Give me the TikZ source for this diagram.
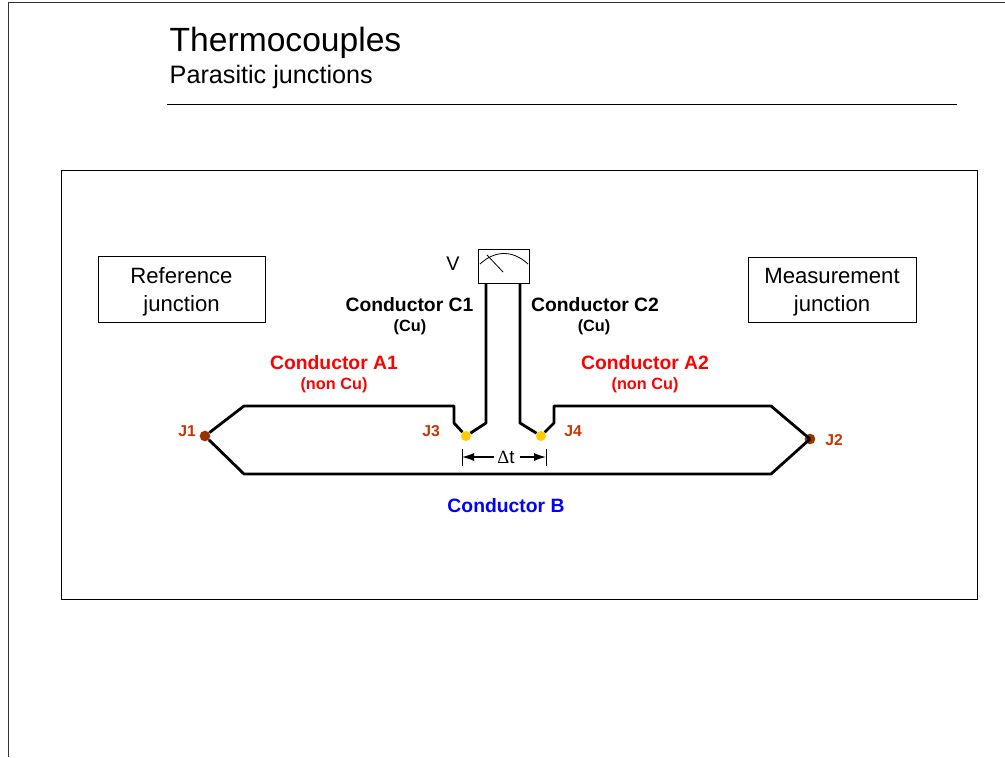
\documentclass[tikz,border=0pt]{standalone}
\usepackage{fontspec}
\setmainfont{Liberation Sans}
\newfontfamily\deltafont{Liberation Serif}
\usepackage{xcolor}
\usepackage{tikz}
\usetikzlibrary{calc,arrows.meta}
\definecolor{jlabel}{HTML}{CC3300}
\definecolor{jhot}{HTML}{993300}
\definecolor{jcold}{HTML}{FFCC00}
\tikzset{
  wire/.style={line width=2.1pt,line join=round},
  thin box/.style={draw,line width=0.6pt},
  hot dot/.style={circle,fill=jhot,inner sep=0pt,minimum size=8pt},
  cold dot/.style={circle,fill=jcold,inner sep=0pt,minimum size=7.5pt},
  junction/.style={text=jlabel,font=\fontsize{11.8}{13}\selectfont\bfseries},
  name big/.style={font=\fontsize{14.5}{17}\selectfont\bfseries},
  name small/.style={font=\fontsize{12.2}{14}\selectfont\bfseries},
  plain label/.style={font=\fontsize{16.6}{21}\selectfont,align=center}
}
\begin{document}
\begin{tikzpicture}[x=0.75pt,y=-0.75pt,>={Latex[length=9pt,width=6pt]}]
\useasboundingbox (0,0) rectangle (1005,757);

% Slide edge and title
\draw[line width=0.6pt,black!80] (8,757) -- (8,2) -- (1005,2);
\node[anchor=west,font=\fontsize{25.2}{30}\selectfont] (title) at (165,42.5) {Thermocouples};
\node[anchor=west,font=\fontsize{18.9}{23}\selectfont] (subtitle) at (165,77) {Parasitic junctions};
\draw[line width=0.75pt] (167,104) -- (957,104);

% Main frame
\draw[thin box] (61.5,170.5) rectangle (977.5,599.5);

% Text boxes
\node[plain label] (reftext) at (181.5,292) {Reference\\junction};
\node[plain label] (meastext) at (832,292.5) {Measurement\\junction};
\draw[thin box] (98.5,256.5) rectangle (265,322.5);
\draw[thin box] (748,257.5) rectangle (916,322.5);

% Junctions
\node[hot dot] (J1) at (205,436) {};
\node[hot dot] (J2) at (810,439) {};
\node[cold dot] (J3) at (466,436) {};
\node[cold dot] (J4) at (541,436) {};
\node[junction] (labelJ1) at (187,431) {J1};
\node[junction] (labelJ2) at (834,440) {J2};
\node[junction] (labelJ3) at (431,431) {J3};
\node[junction] (labelJ4) at (573,431) {J4};

% Meter
\node[thin box,minimum width=38.25pt,minimum height=25.5pt,inner sep=0pt] (meter) at (503.5,266) {};
\draw[line width=0.6pt] (480,264) .. controls (495,250) and (513,250) .. (528,264);
\draw[line width=0.6pt] (487,255) -- (503,272);
\node[font=\fontsize{14.8}{18}\selectfont] (labelV) at (453,264) {V};
\coordinate (C1top) at (486,283);
\coordinate (C2top) at (520,283);

% Wires
\draw[wire] (J1) -- (244,406) -- (454,406) -- (454,423) -- (J3);
\draw[wire] (J3) -- (486,423) -- (C1top);
\draw[wire] (J4) -- (520,423) -- (C2top);
\draw[wire] (J4) -- (554,423) -- (554,406) -- (771,406) -- (J2.center);
\draw[wire] (J2.center) -- (771,474) -- (244,474) -- (J1);

% Conductor names
\node[name big] (nameC1) at (409.5,305) {Conductor C1};
\node[name small] (subC1) at (410,327) {(Cu)};
\node[name big] (nameC2) at (595,305) {Conductor C2};
\node[name small] (subC2) at (594,327) {(Cu)};
\node[name big,text=red] (nameA1) at (334,363) {Conductor A1};
\node[name small,text=red] (subA1) at (334,385) {(non Cu)};
\node[name big,text=red] (nameA2) at (645,363) {Conductor A2};
\node[name small,text=red] (subA2) at (645,385) {(non Cu)};
\node[name big,text=blue] (nameB) at (506,506) {Conductor B};

% Temperature difference
\node[font=\fontsize{14}{17}\selectfont,inner sep=1pt] (dt) at (506,457) {{\deltafont Δ}t};
\coordinate (tickL) at (462,457);
\coordinate (tickR) at (546,457);
\draw[line width=0.6pt] ($(tickL)+(0,-8.5)$) -- ($(tickL)+(0,8.5)$);
\draw[line width=0.6pt] ($(tickR)+(0,-8.5)$) -- ($(tickR)+(0,8.5)$);
\draw[->,line width=0.9pt] (494,457) -- (tickL);
\draw[->,line width=0.9pt] (520,457) -- (tickR);
\end{tikzpicture}
\end{document}
